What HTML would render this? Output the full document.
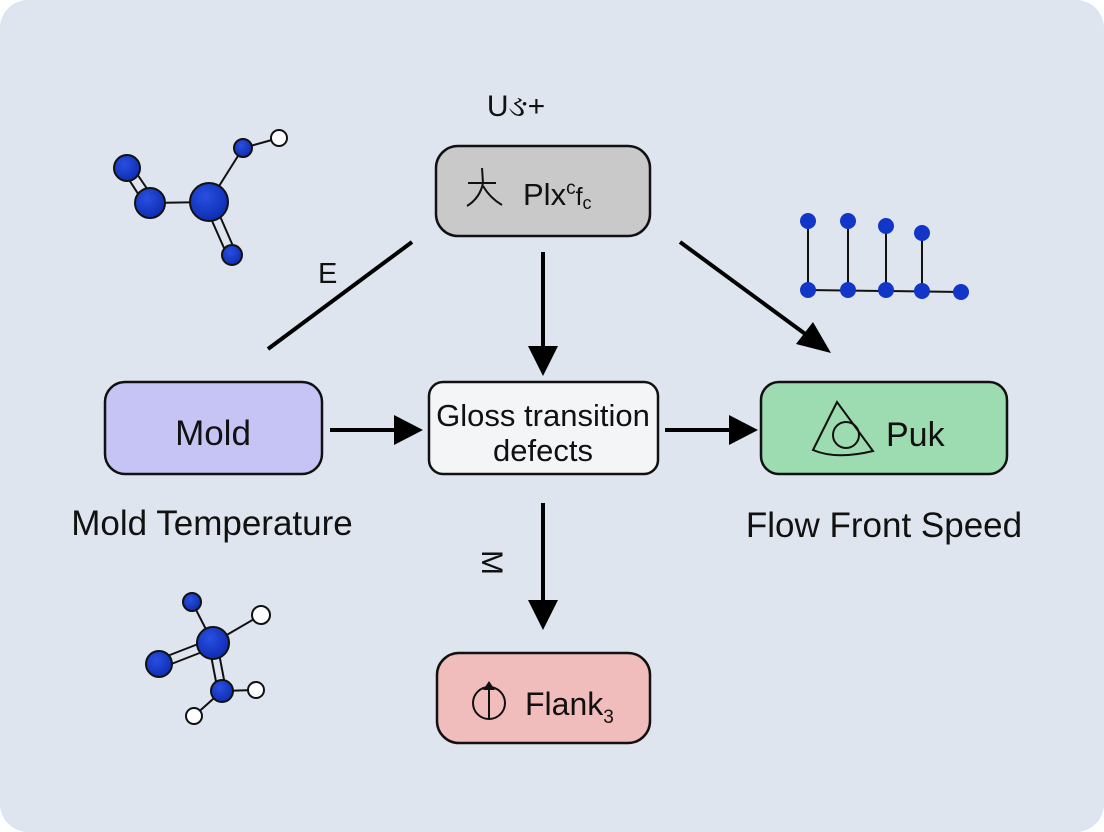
<!DOCTYPE html>
<html><head><meta charset="utf-8"><style>
html,body{margin:0;padding:0;background:#fff}
svg{display:block}
text{font-family:"Liberation Sans","Noto Sans CJK SC",sans-serif;fill:#111}
</style></head><body>
<svg width="1104" height="832" viewBox="0 0 1104 832" xmlns="http://www.w3.org/2000/svg">
<defs>
<radialGradient id="g" cx="0.4" cy="0.35" r="0.7"><stop offset="0" stop-color="#2a4fe0"/><stop offset="1" stop-color="#0b2bb0"/></radialGradient>
</defs>
<rect x="0" y="0" width="1104" height="832" rx="28" fill="#dfe5ee"/>
<g stroke="#111" stroke-width="2">
<line x1="124" y1="172" x2="146" y2="206"/><line x1="131" y1="165" x2="154" y2="199"/>
<line x1="150" y1="203" x2="209" y2="202"/>
<line x1="209" y1="202" x2="243" y2="148"/>
<line x1="243" y1="148" x2="279" y2="138"/>
<line x1="205" y1="205" x2="228" y2="257"/><line x1="213" y1="200" x2="236" y2="253"/>
<circle cx="127" cy="168" r="13" fill="url(#g)"/>
<circle cx="150" cy="203" r="15" fill="url(#g)"/>
<circle cx="209" cy="202" r="19" fill="url(#g)"/>
<circle cx="243" cy="148" r="9" fill="url(#g)"/>
<circle cx="279" cy="138" r="8" fill="#fff"/>
<circle cx="232" cy="255" r="10" fill="url(#g)"/>
<line x1="192" y1="602" x2="213" y2="643"/>
<line x1="213" y1="643" x2="261" y2="615"/>
<line x1="157" y1="660" x2="211" y2="639"/><line x1="161" y1="668" x2="215" y2="647"/>
<line x1="209" y1="645" x2="218" y2="692"/><line x1="217" y1="643" x2="226" y2="690"/>
<line x1="222" y1="691" x2="256" y2="690"/>
<line x1="222" y1="691" x2="194" y2="716"/>
<circle cx="192" cy="602" r="9" fill="url(#g)"/>
<circle cx="213" cy="643" r="16" fill="url(#g)"/>
<circle cx="159" cy="664" r="13" fill="url(#g)"/>
<circle cx="261" cy="615" r="9" fill="#fff"/>
<circle cx="222" cy="691" r="11" fill="url(#g)"/>
<circle cx="256" cy="690" r="8" fill="#fff"/>
<circle cx="194" cy="716" r="8" fill="#fff"/>
</g>
<g stroke="#111" stroke-width="2" fill="#1236c8">
<line x1="808" y1="221" x2="808" y2="290"/><line x1="848" y1="221" x2="848" y2="290"/>
<line x1="886" y1="226" x2="886" y2="290"/><line x1="922" y1="233" x2="922" y2="291"/>
<line x1="808" y1="290" x2="961" y2="292"/>
</g>
<g fill="#1236c8">
<circle cx="808" cy="221" r="8"/><circle cx="848" cy="221" r="8"/><circle cx="886" cy="226" r="8"/><circle cx="922" cy="233" r="8"/>
<circle cx="808" cy="290" r="8"/><circle cx="848" cy="290" r="8"/><circle cx="886" cy="290" r="8"/><circle cx="922" cy="291" r="8"/><circle cx="961" cy="292" r="8"/>
</g>
<g stroke="#000" stroke-width="4" fill="none">
<line x1="268" y1="349" x2="412" y2="242"/>
<line x1="543" y1="252" x2="543" y2="350"/>
<line x1="680" y1="242" x2="808" y2="336"/>
<line x1="330" y1="430" x2="398" y2="430"/>
<line x1="665" y1="430" x2="733" y2="430"/>
<line x1="543" y1="503" x2="543" y2="605"/>
</g>
<g fill="#000">
<polygon points="528,346 558,346 543,376"/>
<polygon points="796,344 813,322 831,353"/>
<polygon points="394,415 394,445 423,430"/>
<polygon points="729,415 729,445 758,430"/>
<polygon points="528,600 558,600 543,630"/>
</g>
<g stroke="#111" stroke-width="2.5">
<rect x="436" y="146" width="214" height="90" rx="22" fill="#c9c9c9"/>
<rect x="105" y="382" width="217" height="92" rx="20" fill="#c6c3f5"/>
<rect x="429" y="382" width="229" height="92" rx="14" fill="#f4f5f7"/>
<rect x="761" y="382" width="246" height="92" rx="18" fill="#9ddbb0"/>
<rect x="437" y="653" width="213" height="90" rx="22" fill="#f1bcbc"/>
</g>
<g stroke="#111" stroke-width="2" fill="none">
<path d="M468 183 L496 183 M482 168 L483 183 Q480 198 467 206 M483 186 Q490 198 502 205"/>
<path d="M837 402 L813 450 Q836 460 873 451 Z"/>
<circle cx="846" cy="435" r="13"/>
<circle cx="489" cy="703" r="16"/>
<line x1="489" y1="690" x2="489" y2="718"/>
</g>
<polygon points="483,690 495,690 489,681" fill="#111"/>
<text x="516" y="116" font-size="30" text-anchor="middle">Uઙ+</text>
<text x="523" y="205" font-size="31">Plx<tspan font-size="19" dy="-11">c</tspan><tspan font-size="25" dy="11">f</tspan><tspan font-size="18" dy="4">c</tspan></text>
<text x="213" y="445" font-size="35" text-anchor="middle">Mold</text>
<text x="543" y="426" font-size="31" text-anchor="middle">Gloss transition</text>
<text x="543" y="461" font-size="31" text-anchor="middle">defects</text>
<text x="886" y="446" font-size="34">Puk</text>
<text x="525" y="715" font-size="32">Flank<tspan font-size="19" dy="8">3</tspan></text>
<text x="212" y="535" font-size="35" text-anchor="middle">Mold Temperature</text>
<text x="884" y="537" font-size="35" text-anchor="middle">Flow Front Speed</text>
<text x="318" y="283" font-size="29">E</text>
<text x="0" y="0" font-size="30" transform="translate(482,550) rotate(90)">M</text>
</svg>
</body></html>
